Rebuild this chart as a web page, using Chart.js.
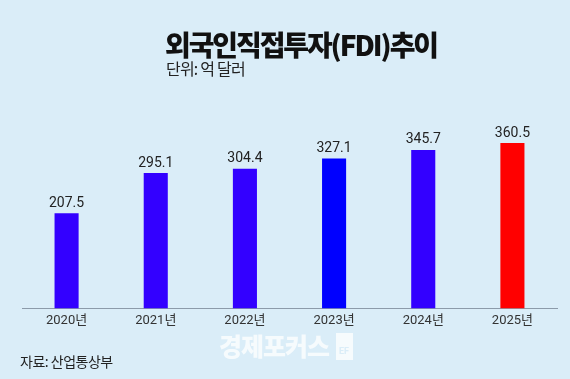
<!DOCTYPE html>
<html>
<head>
<meta charset="utf-8">
<script src="https://cdn.jsdelivr.net/npm/chart.js@4.4.1/dist/chart.umd.min.js"></script>
<style>
  html, body { margin: 0; padding: 0; }
  body { width: 570px; height: 379px; background: #DAEDF8; position: relative; overflow: hidden;
         font-family: Roboto, "Noto Sans CJK KR", sans-serif; }
  #c { position: absolute; left: 0; top: 0; }
  .t { position: absolute; white-space: nowrap; line-height: 1; }
  #title { left: 165px; top: 30px; font-size: 28px; font-weight: 900; color: #111; letter-spacing: -2.1px;
           font-family: "Noto Sans CJK KR", sans-serif; }
  #sub { left: 166px; top: 60px; font-size: 16px; color: #222; letter-spacing: -0.8px;
         font-family: "Noto Sans CJK KR", sans-serif; }
  #src { left: 20px; top: 354px; font-size: 14px; color: #222; letter-spacing: -0.5px;
         font-family: "Noto Sans CJK KR", sans-serif; }
  #wm { left: 219px; top: 333px; font-size: 25px; font-weight: 900; color: rgba(255,255,255,0.75); letter-spacing: -1px;
        font-family: "Noto Sans CJK KR", sans-serif; }
  #wmbox { position: absolute; left: 336px; top: 333px; width: 17px; height: 27px; background: rgba(255,255,255,0.75);
           font: bold 9px Roboto, sans-serif; color: #DAEDF8; line-height: 1; }
  #wmbox span { position: absolute; left: 3px; bottom: 4px; }
</style>
</head>
<body>
<canvas id="c" width="570" height="379"></canvas>
<div class="t" id="title">외국인직접투자(FDI)추이</div>
<div class="t" id="sub">단위: 억 달러</div>
<div class="t" id="src">자료: 산업통상부</div>
<div class="t" id="wm">경제포커스</div>
<div id="wmbox"><span>EF</span></div>
<script>
const categories = ["2020년", "2021년", "2022년", "2023년", "2024년", "2025년"];
const fdiValues = [207.5, 295.1, 304.4, 327.1, 345.7, 360.5];
const barColors = ["#3300FF", "#3300FF", "#3300FF", "#0000FF", "#3300FF", "#FF0000"];

const valueLabels = {
  id: "valueLabels",
  afterDatasetsDraw(chart) {
    const ctx = chart.ctx;
    const meta = chart.getDatasetMeta(0);
    ctx.save();
    ctx.font = "14px Roboto, 'Noto Sans CJK KR', sans-serif";
    ctx.fillStyle = "#222";
    ctx.textAlign = "center";
    ctx.textBaseline = "bottom";
    meta.data.forEach((bar, i) => {
      ctx.fillText(fdiValues[i].toFixed(1), bar.x, bar.y - 3);
    });
    ctx.restore();
  }
};

new Chart(document.getElementById("c"), {
  type: "bar",
  data: {
    labels: categories,
    datasets: [{
      data: fdiValues,
      backgroundColor: barColors,
      borderWidth: 0,
      barPercentage: 0.27,
      categoryPercentage: 1.0
    }]
  },
  options: {
    responsive: false,
    animation: false,
    devicePixelRatio: 1,
    layout: { padding: { left: 22, right: 13, top: 125, bottom: 45 } },
    plugins: { legend: { display: false }, tooltip: { enabled: false }, title: { display: false } },
    scales: {
      x: {
        grid: { display: false, drawTicks: false },
        border: { display: true, color: "#8C9BAA", width: 1 },
        ticks: { color: "#333", padding: 5, font: { size: 13, family: "Roboto, 'Noto Sans CJK KR', sans-serif" } }
      },
      y: { display: false, min: 0, max: 400 }
    }
  },
  plugins: [valueLabels]
});
</script>
</body>
</html>
